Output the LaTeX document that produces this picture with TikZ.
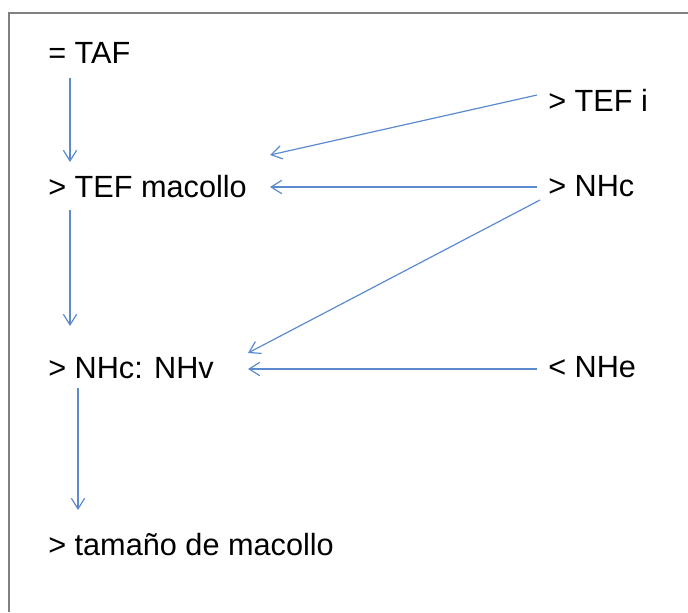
\documentclass[tikz,border=0pt]{standalone}
\usepackage{fontspec}
\setmainfont{Liberation Sans}
\usetikzlibrary{arrows.meta}
\usetikzlibrary{calc}
\definecolor{azul}{RGB}{91,139,206}
\definecolor{marco}{RGB}{128,128,128}
\tikzset{texto/.style={anchor=base west, inner sep=0pt, font=\fontsize{23}{28}\selectfont},
  flecha/.style={draw=azul, line width=0.9pt, -{Straight Barb[length=8pt,width=10pt]}},}

\begin{document}
\begin{tikzpicture}[x=0.75pt,y=-0.75pt]
      \useasboundingbox (0,0) rectangle (688,612);
      \draw[marco, line width=1.6pt] (9,612) -- (9,13) -- (688,13);

      \node[texto] (taf)  at (48,63)  {= TAF};
      \node[texto] (tefm) at (48,197) {> TEF macollo};
      \node[texto] (nhv)  at (48,378) {> NHc: NHv};
      \node[texto] (tam)  at (48,555) {> tamaño de macollo};
      \node[texto] (tefi) at (548,111) {> TEF i};
      \node[texto] (nhc)  at (548,196) {> NHc};
      \node[texto] (nhe)  at (548,377) {< NHe};

      % columna izquierda
      \draw[flecha] ($(taf.base west)+(22,15)$) -- ($(tefm.base west)+(22,-35)$);
      \draw[flecha] ($(tefm.base west)+(22,13)$) -- ($(nhv.base west)+(22,-52)$);
      \draw[flecha] ($(nhv.base west)+(30,10)$) -- ($(tam.base west)+(30,-45)$);

      % desde la derecha
      \draw[flecha] ($(tefi.base west)+(-11,-16)$) -- ($(tefm.base west)+(222,-42)$);
      \draw[flecha] ($(nhc.base west)+(-11,-9)$) -- ($(tefm.base west)+(222,-10)$);
      \draw[flecha] ($(nhc.base west)+(-8,4)$) -- ($(nhv.base west)+(200,-25)$);
      \draw[flecha] ($(nhe.base west)+(-11,-8)$) -- ($(nhv.base west)+(200,-9)$);
    \end{tikzpicture}
\end{document}
